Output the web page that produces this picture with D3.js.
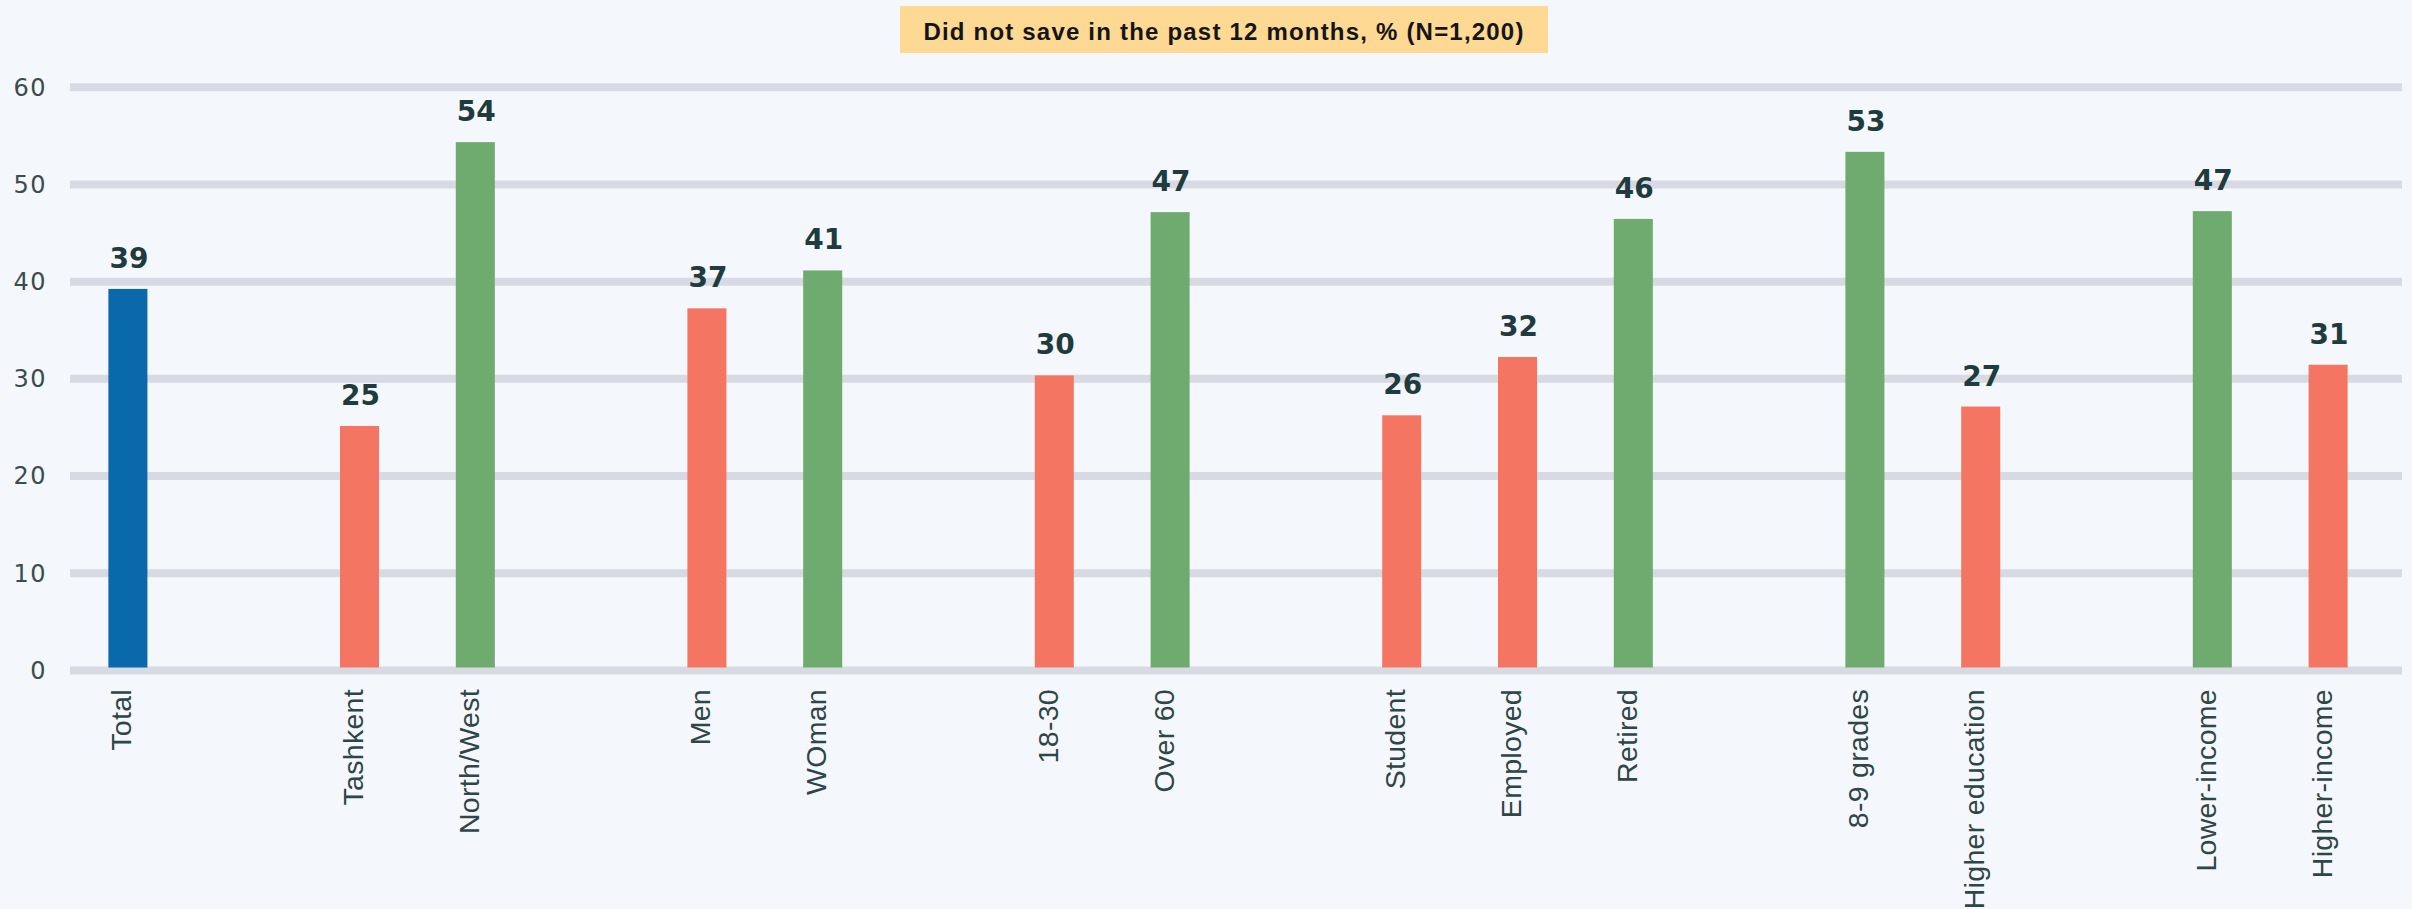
<!DOCTYPE html>
<meta charset="utf-8">
<style>
body {
  margin: 0;
  background: #f4f8fc;
}
.axis .domain {
  display: none;
}
.axis line {
  stroke: #d7dae3;
  stroke-width: 8px;
}
.axis text {
  font-family: "DejaVu Sans", sans-serif;
  font-size: 24px;
  letter-spacing: 1.5px;
  fill: #3c4b4c;
}
.value {
  font-family: "DejaVu Sans", sans-serif;
  font-weight: bold;
  font-size: 28px;
  fill: #1f3b3d;
  text-anchor: middle;
}
.cat {
  font-family: "Liberation Sans", Arial, sans-serif;
  font-size: 28.5px;
  letter-spacing: 0.3px;
  fill: #2f4546;
  text-anchor: end;
}
.title {
  font-family: "Liberation Sans", Arial, sans-serif;
  font-weight: bold;
  font-size: 24px;
  letter-spacing: 1.2px;
  fill: #151515;
  text-anchor: middle;
}
</style>
<svg width="2412" height="909"></svg>
<script src="https://d3js.org/d3.v7.min.js"></script>
<script>

var categories = ["Total", "Tashkent", "North/West", "Men", "WOman", "18-30", "Over 60",
                  "Student", "Employed", "Retired", "8-9 grades", "Higher education",
                  "Lower-income", "Higher-income"];
var values = [39.2, 25.1, 54.3, 37.2, 41.1, 30.3, 47.1, 26.2, 32.2, 46.4, 53.3, 27.1, 47.2, 31.4];
var groups = [0, 1, 1, 2, 2, 3, 3, 4, 4, 4, 5, 5, 6, 6];
var kinds = ["total", "low", "high", "low", "high", "low", "high",
             "low", "low", "high", "high", "low", "high", "low"];
var yTicks = [0, 10, 20, 30, 40, 50, 60];
var title = "Did not save in the past 12 months, % (N=1,200)";

var colors = {total: "#0a69ab", low: "#f37562", high: "#6faa6f"};

var svg = d3.select("svg");

// one band per bar, plus an empty band between groups
var slots = [];
categories.forEach(function(c, i) {
  if (i > 0 && groups[i] !== groups[i - 1]) slots.push("gap" + groups[i]);
  slots.push(c);
});

var x = d3.scaleBand()
    .domain(slots)
    .range([70, 2386])
    .paddingInner(0.663)
    .paddingOuter(0.3315);

var y = d3.scaleLinear()
    .domain([0, 60])
    .range([670, 86.7]);

var data = categories.map(function(c, i) {
  return {name: c, value: values[i], kind: kinds[i]};
});

// title box
var tb = svg.append("g");
tb.append("rect")
    .attr("x", 900)
    .attr("y", 6)
    .attr("width", 648)
    .attr("height", 47)
    .attr("fill", "#fdd994");
tb.append("text")
    .attr("class", "title")
    .attr("x", 1224)
    .attr("y", 40)
    .text(title);

// gridlines + y labels
svg.append("g")
    .attr("class", "axis")
    .attr("transform", "translate(70,0)")
    .call(d3.axisLeft(y).tickValues(yTicks).tickSize(-(2402 - 70)).tickPadding(23))
  .selectAll("text")
    .attr("dy", "0.35em");

svg.selectAll(".bar")
  .data(data)
  .enter().append("rect")
    .attr("class", "bar")
    .attr("x", function(d) { return x(d.name); })
    .attr("width", x.bandwidth())
    .attr("y", function(d) { return y(d.value); })
    .attr("height", function(d) { return y(0) - 2.5 - y(d.value); })
    .attr("fill", function(d) { return colors[d.kind]; });

svg.selectAll(".value")
  .data(data)
  .enter().append("text")
    .attr("class", "value")
    .attr("x", function(d) { return x(d.name) + x.bandwidth() / 2 + 1; })
    .attr("y", function(d) { return y(d.value) - 21; })
    .text(function(d) { return Math.round(d.value); });

svg.selectAll(".cat")
  .data(data)
  .enter().append("text")
    .attr("class", "cat")
    .attr("transform", function(d) {
      return "translate(" + (x(d.name) + x.bandwidth() / 2 + 3.5) + ",689) rotate(-90)";
    })
    .text(function(d) { return d.name; });

</script>
